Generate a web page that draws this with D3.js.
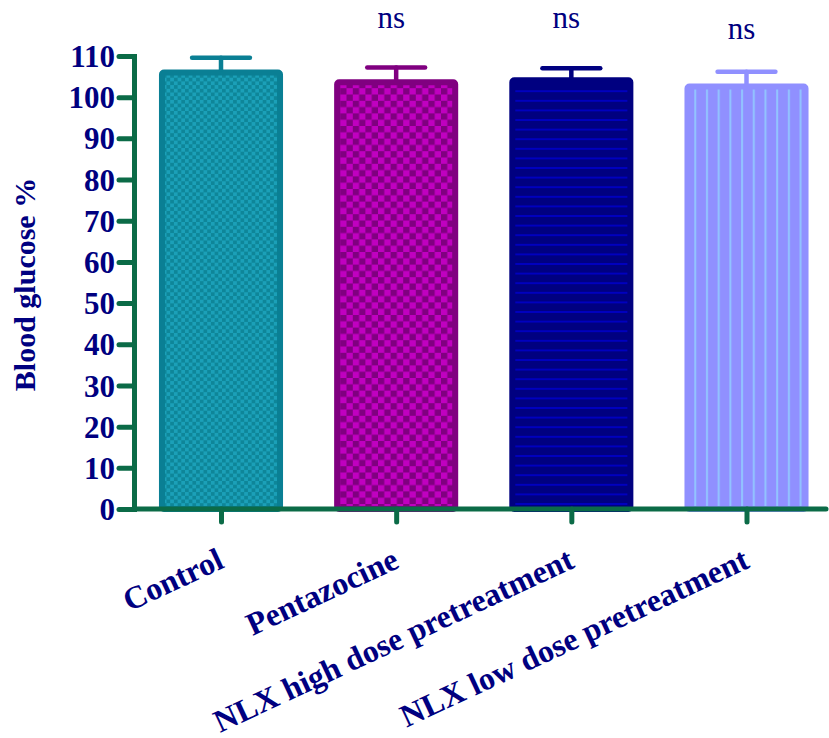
<!DOCTYPE html>
<html>
<head>
<meta charset="utf-8">
<script src="https://cdn.jsdelivr.net/npm/d3@7"></script>
<style>
  html, body { margin: 0; padding: 0; background: #fff; }
  svg { display: block; }
  text { font-family: "Liberation Serif", "Times New Roman", serif; fill: #000080; }
</style>
</head>
<body>
<svg id="chart" width="829" height="738"></svg>
<script>
// Blood glucose (% of baseline), mean ± SEM per treatment group
const categories = ["Control", "Pentazocine", "NLX high dose pretreatment", "NLX low dose pretreatment"];
const means = [106.0, 103.6, 104.1, 102.6];
const sems = [3.6, 3.6, 2.9, 3.6];
const significance = ["", "ns", "ns", "ns"];
const significanceLevel = [null, 116.7, 116.7, 114.2];
const yTickValues = [0, 10, 20, 30, 40, 50, 60, 70, 80, 90, 100, 110];

// Per-group appearance
const groupStyles = [
  { stroke: "#0a7f94", pattern: "checkSmall" },
  { stroke: "#800080", pattern: "checkLarge" },
  { stroke: "#000080", pattern: "hLines" },
  { stroke: "#9090ff", pattern: "vLines" }
];

const axisColor = "#0b6b47";
const svg = d3.select("#chart");

const margin = { left: 134, top: 56, bottom: 509, right: 826 };
const y = d3.scaleLinear().domain([0, 110]).range([margin.bottom, margin.top]);
const x = d3.scalePoint().domain(categories).range([221, 746.5]);
const step = x(categories[1]) - x(categories[0]);
const barW = step * 0.674;

// Fill patterns
const defs = svg.append("defs");
function checker(id, size, c1, c2) {
  const p = defs.append("pattern").attr("id", id).attr("patternUnits", "userSpaceOnUse")
    .attr("width", size * 2).attr("height", size * 2);
  p.append("rect").attr("width", size * 2).attr("height", size * 2).attr("fill", c1);
  p.append("rect").attr("width", size).attr("height", size).attr("fill", c2);
  p.append("rect").attr("x", size).attr("y", size).attr("width", size).attr("height", size).attr("fill", c2);
}
checker("checkSmall", 3.7, "#1ba0b8", "#0e8699");
checker("checkLarge", 6.3, "#c000c0", "#800080");

const hp = defs.append("pattern").attr("id", "hLines").attr("patternUnits", "userSpaceOnUse")
  .attr("width", 10).attr("height", 9.6);
hp.append("rect").attr("width", 10).attr("height", 9.6).attr("fill", "#000080");
hp.append("rect").attr("y", 4).attr("width", 10).attr("height", 1.6).attr("fill", "#0000cc");

const vp = defs.append("pattern").attr("id", "vLines").attr("patternUnits", "userSpaceOnUse")
  .attr("width", 11.7).attr("height", 10);
vp.append("rect").attr("width", 11.7).attr("height", 10).attr("fill", "#9090ff");
vp.append("rect").attr("x", 4).attr("width", 2).attr("height", 10).attr("fill", "#92c4ff");

const rows = categories.map((c, i) => ({
  cat: c, mean: means[i], sem: sems[i], sig: significance[i], sigLevel: significanceLevel[i], style: groupStyles[i]
}));

// Bars
svg.append("g").selectAll("rect").data(rows).join("rect")
  .attr("x", d => x(d.cat) - barW / 2)
  .attr("y", d => y(d.mean))
  .attr("width", barW)
  .attr("height", d => y(0) - y(d.mean))
  .attr("rx", 2)
  .attr("fill", d => `url(#${d.style.pattern})`)
  .attr("stroke", d => d.style.stroke)
  .attr("stroke-width", 6);

// Error bars (upper)
const eb = svg.append("g").selectAll("g").data(rows).join("g")
  .attr("stroke", d => d.style.stroke)
  .attr("stroke-width", 4.5)
  .attr("stroke-linecap", "round");
eb.append("line")
  .attr("x1", d => x(d.cat)).attr("x2", d => x(d.cat))
  .attr("y1", d => y(d.mean) - 3).attr("y2", d => y(d.mean + d.sem));
eb.append("line")
  .attr("x1", d => x(d.cat) - barW * 0.245).attr("x2", d => x(d.cat) + barW * 0.245)
  .attr("y1", d => y(d.mean + d.sem)).attr("y2", d => y(d.mean + d.sem));

// Significance labels
svg.append("g").selectAll("text").data(rows.filter(d => d.sig)).join("text")
  .attr("x", d => x(d.cat) - 5)
  .attr("y", d => y(d.sigLevel))
  .attr("text-anchor", "middle")
  .style("font-size", "31px")
  .text(d => d.sig);

// Y axis
const yAxis = svg.append("g")
  .attr("transform", `translate(${margin.left},0)`)
  .call(d3.axisLeft(y).tickValues(yTickValues).tickSize(15).tickSizeOuter(0).tickPadding(4));
yAxis.select(".domain").attr("stroke", axisColor).attr("stroke-width", 5).attr("stroke-linecap", "square");
yAxis.selectAll(".tick line").attr("stroke", axisColor).attr("stroke-width", 5).attr("stroke-linecap", "round");
yAxis.selectAll(".tick text")
  .attr("fill", "#000080")
  .style("font-size", "31px").style("font-weight", "bold")
  .style("font-family", "'Liberation Serif', 'Times New Roman', serif")
  .attr("dy", "0.34em");

// X axis
const xAxis = svg.append("g")
  .attr("transform", `translate(0,${y(0)})`)
  .call(d3.axisBottom(x).tickSize(13).tickSizeOuter(0));
xAxis.select(".domain").remove();
xAxis.insert("line", ":first-child")
  .attr("x1", margin.left).attr("x2", margin.right)
  .attr("stroke", axisColor).attr("stroke-width", 5).attr("stroke-linecap", "round");
xAxis.selectAll(".tick line").attr("stroke", axisColor).attr("stroke-width", 5).attr("stroke-linecap", "round");
xAxis.selectAll(".tick text")
  .attr("fill", "#000080")
  .attr("x", 0).attr("y", 0).attr("dy", 0)
  .attr("text-anchor", "end")
  .attr("transform", "translate(4,58) rotate(-25)")
  .style("font-size", "32px").style("font-weight", "bold")
  .style("font-family", "'Liberation Serif', 'Times New Roman', serif");

// Y axis title
svg.append("text")
  .attr("transform", `translate(35,${(y(0) + y(110)) / 2 + 2}) rotate(-90)`)
  .attr("text-anchor", "middle")
  .style("font-size", "30px").style("font-weight", "bold")
  .text("Blood glucose %");
</script>
</body>
</html>
